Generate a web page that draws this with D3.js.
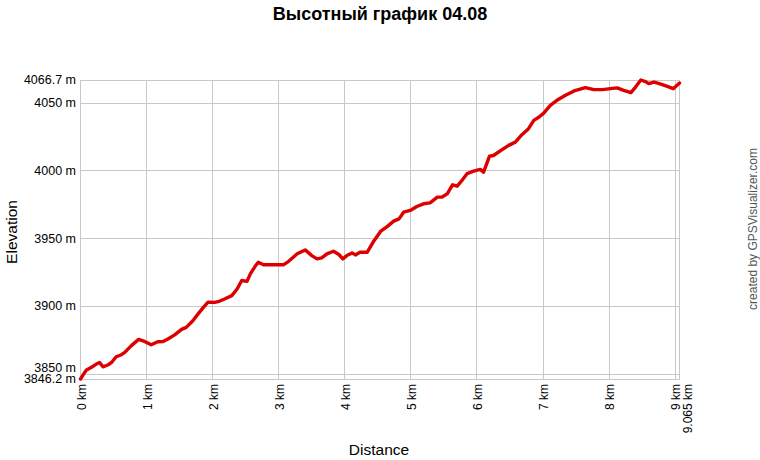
<!DOCTYPE html>
<html>
<head>
<meta charset="utf-8">
<script src="https://cdn.jsdelivr.net/npm/d3@7"></script>
<style>
  html, body { margin: 0; padding: 0; background: #fff; }
  svg { display: block; font-family: "Liberation Sans", Arial, sans-serif; }
</style>
</head>
<body>
<svg id="chart" width="760" height="460"></svg>
<script>
const titleText = "Высотный график 04.08";
const xAxisTitle = "Distance";
const yAxisTitle = "Elevation";
const creditText = "created by GPSVisualizer.com";

const distKm = [
  0.00, 0.04, 0.09, 0.16, 0.24, 0.29, 0.34, 0.42, 0.47, 0.54, 0.62, 0.67, 0.77, 0.88, 0.97,
  1.07, 1.17, 1.25, 1.33, 1.43, 1.53, 1.60, 1.70, 1.78, 1.86, 1.93,
  2.03, 2.10, 2.18, 2.29, 2.37, 2.44, 2.52, 2.57, 2.64, 2.69, 2.77,
  3.07, 3.15, 3.28, 3.40, 3.50, 3.58, 3.65, 3.73, 3.83, 3.91, 3.97,
  4.03, 4.11, 4.16, 4.23, 4.34, 4.44, 4.54, 4.64, 4.74, 4.82, 4.89, 4.99,
  5.09, 5.19, 5.29, 5.40, 5.47, 5.55, 5.63, 5.70, 5.78, 5.85, 5.95,
  6.05, 6.10, 6.19, 6.25, 6.38, 6.48, 6.58, 6.68, 6.78, 6.86, 6.94,
  7.01, 7.11, 7.21, 7.34, 7.47, 7.64, 7.77, 7.90,
  8.02, 8.12, 8.22, 8.33, 8.40, 8.48, 8.55, 8.60, 8.68, 8.76, 8.86, 8.97, 9.065
];
const elevM = [
  3846.2, 3849.3, 3852.8, 3854.7, 3857.2, 3858.4, 3855.2, 3856.7, 3858.4, 3862.6, 3864.1, 3865.8, 3870.8, 3875.4, 3873.9,
  3871.5, 3873.7, 3873.9, 3875.9, 3878.9, 3882.8, 3884.3, 3889.2, 3894.2, 3899.0, 3902.9,
  3902.7, 3903.5, 3905.2, 3907.7, 3912.6, 3918.8, 3918.2, 3923.7, 3929.1, 3932.3, 3930.4,
  3930.4, 3933.0, 3938.5, 3941.4, 3937.2, 3934.8, 3935.5, 3938.5, 3940.4, 3938.0, 3934.8,
  3937.2, 3939.2, 3937.7, 3939.7, 3939.7, 3948.0, 3955.0, 3958.6, 3962.6, 3964.3, 3969.2, 3970.5,
  3973.4, 3975.4, 3976.1, 3980.3, 3980.3, 3982.8, 3989.4, 3988.4, 3993.1, 3997.6, 3999.5,
  4000.8, 3998.7, 4010.5, 4011.0, 4015.3, 4018.5, 4020.9, 4026.4, 4030.8, 4036.9, 4039.4,
  4042.3, 4048.0, 4051.7, 4055.4, 4058.6, 4061.1, 4059.6, 4059.6,
  4060.3, 4060.9, 4059.1, 4057.4, 4061.5, 4066.7, 4065.5, 4064.0, 4065.2, 4064.0, 4062.3, 4060.3, 4064.5
];

const xTicks = [0, 1, 2, 3, 4, 5, 6, 7, 8, 9, 9.065];
const xTickLabels = ["0 km", "1 km", "2 km", "3 km", "4 km", "5 km", "6 km", "7 km", "8 km", "9 km", "9.065 km"];
const yTicks = [3846.2, 3850, 3900, 3950, 4000, 4050, 4066.7];
const yTickLabels = ["3846.2 m", "3850 m", "3900 m", "3950 m", "4000 m", "4050 m", "4066.7 m"];

const svg = d3.select("#chart");
const plotLeft = 80.5, plotRight = 679.5, plotTop = 80, plotBottom = 379;

const x = d3.scaleLinear().domain([0, 9.065]).range([plotLeft, plotRight]);
const y = d3.scaleLinear().domain([3846.2, 4066.7]).range([plotBottom, plotTop]);

const gridColor = "#c8c8c8";
const crisp = v => Math.round(v) + 0.5;

// Grid lines
svg.append("g").selectAll("line").data(xTicks).join("line")
  .attr("x1", d => crisp(x(d) - 0.5)).attr("x2", d => crisp(x(d) - 0.5))
  .attr("y1", plotTop).attr("y2", plotBottom + 1)
  .attr("stroke", gridColor).attr("stroke-width", 1);
svg.append("g").selectAll("line").data(yTicks).join("line")
  .attr("x1", plotLeft - 0.5).attr("x2", plotRight + 0.5)
  .attr("y1", d => crisp(y(d))).attr("y2", d => crisp(y(d)))
  .attr("stroke", gridColor).attr("stroke-width", 1);

// Y tick labels (shift the crowded 3850 label upward)
const yLabelShift = { "3850 m": -6 };
svg.append("g").selectAll("text").data(yTicks).join("text")
  .attr("x", 76)
  .attr("y", (d, i) => y(d) + (yLabelShift[yTickLabels[i]] || 0))
  .attr("dy", "0.35em")
  .attr("text-anchor", "end")
  .attr("font-size", 12.5)
  .attr("fill", "#000")
  .text((d, i) => yTickLabels[i]);

// X tick labels (rotated), last one nudged right to avoid overlap
const xLabelShift = { "9.065 km": 7 };
svg.append("g").selectAll("text").data(xTicks).join("text")
  .attr("transform", (d, i) => `translate(${x(d) + 1 + (xLabelShift[xTickLabels[i]] || 0)},384) rotate(-90)`)
  .attr("dy", "0.35em")
  .attr("text-anchor", "end")
  .attr("font-size", 12)
  .attr("fill", "#000")
  .text((d, i) => xTickLabels[i]);

// Elevation line
const pts = distKm.map((d, i) => [d, elevM[i]]);
svg.append("path")
  .datum(pts)
  .attr("d", d3.line().x(d => x(d[0])).y(d => y(d[1])))
  .attr("fill", "none")
  .attr("stroke", "#dd0000")
  .attr("stroke-width", 3.4)
  .attr("stroke-linejoin", "round")
  .attr("stroke-linecap", "round");

// Title
svg.append("text")
  .attr("x", 380).attr("y", 20)
  .attr("text-anchor", "middle")
  .attr("font-size", 18).attr("font-weight", "bold")
  .attr("fill", "#000")
  .text(titleText);

// Axis titles
svg.append("text")
  .attr("x", 379).attr("y", 455)
  .attr("text-anchor", "middle")
  .attr("font-size", 15.5)
  .attr("fill", "#000")
  .text(xAxisTitle);
svg.append("text")
  .attr("transform", "translate(17,232) rotate(-90)")
  .attr("text-anchor", "middle")
  .attr("font-size", 15.5)
  .attr("fill", "#000")
  .text(yAxisTitle);

// Credit
svg.append("text")
  .attr("transform", "translate(757,229) rotate(-90)")
  .attr("text-anchor", "middle")
  .attr("font-size", 12)
  .attr("fill", "#555")
  .text(creditText);
</script>
</body>
</html>
